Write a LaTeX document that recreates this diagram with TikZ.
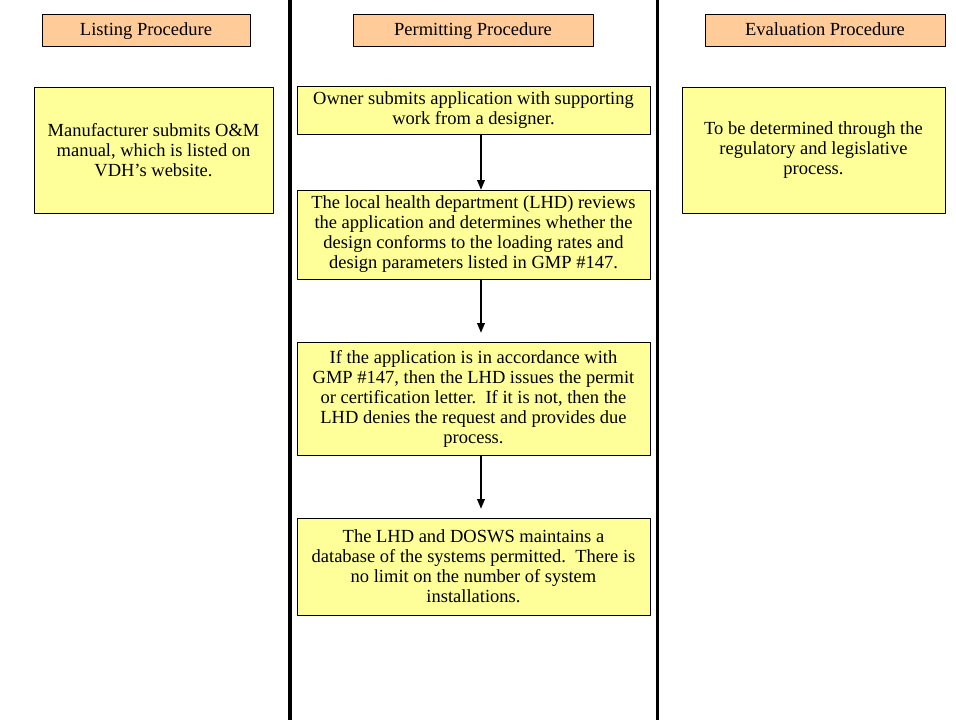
\documentclass[tikz,border=0pt]{standalone}
\usepackage{fontspec}
\setmainfont{Liberation Serif}
\usetikzlibrary{arrows}
\definecolor{hdrorange}{RGB}{255,204,153}
\definecolor{stepyellow}{RGB}{255,255,153}

\begin{document}
\begin{tikzpicture}[line cap=round,line join=round,>=triangle 45,x=1pt,y=-1pt,
	hdr/.style={draw=black,line width=0.8pt,fill=hdrorange,minimum height=32pt,inner sep=0pt,text height=1em,text depth=0em,font=\fontsize{18.5}{20}\selectfont},
	stepbox/.style={draw=black,line width=0.8pt,fill=stepyellow,inner sep=0pt,align=center,font=\fontsize{18.5}{20}\selectfont},
	flow/.style={->,line width=1.2pt}]
			\useasboundingbox (0,0) rectangle (956,721);
			%%%%%%%%%%%%%%% L A N E S %%%%%%%%%%%%%%%%
			\draw [line width=4pt,line cap=butt] (290,0) -- (290,720);
			\draw [line width=3.5pt,line cap=butt] (657.5,0) -- (657.5,720);
			%%%%%%%%%%%%%%% H E A D E R S %%%%%%%%%%%%%%%%
			\node[hdr,minimum width=208pt] (hdrL) at (146,30) {Listing Procedure};
			\node[hdr,minimum width=240pt] (hdrP) at (473,30) {Permitting Procedure};
			\node[hdr,minimum width=240pt] (hdrE) at (825,30) {Evaluation Procedure};
			%%%%%%%%%%%%%%% L I S T I N G %%%%%%%%%%%%%%%%
			\node[stepbox,minimum width=239pt,minimum height=126pt] (list) at (153.5,150)
				{Manufacturer submits O\&M\\manual, which is listed on\\VDH’s website.};
			%%%%%%%%%%%%%%% P E R M I T T I N G %%%%%%%%%%%%%%%%
			%step 1
			\node[stepbox,minimum width=353pt,minimum height=48pt] (apply) at (473.5,110)
				{Owner submits application with supporting\\work from a designer.};
			%step 2
			\node[stepbox,minimum width=353pt,minimum height=89pt] (review) at (473.5,234.5)
				{The local health department (LHD) reviews\\the application and determines whether the\\design conforms to the loading rates and\\design parameters listed in GMP \#147.};
			%step 3
			\node[stepbox,minimum width=353pt,minimum height=113pt] (issue) at (473.5,398.5)
				{If the application is in accordance with\\GMP \#147, then the LHD issues the permit\\or certification letter.\ \ If it is not, then the\\LHD denies the request and provides due\\process.};
			%step 4
			\node[stepbox,minimum width=353pt,minimum height=97pt] (record) at (473.5,566.5)
				{The LHD and DOSWS maintains a\\database of the systems permitted.\ \ There is\\no limit on the number of system\\installations.};
			%arrows
			\coordinate (ax) at (481,0);
			\draw [flow] (apply.south -| ax) -- (review.north -| ax);
			\draw [flow,shorten >=9pt] (review.south -| ax) -- (issue.north -| ax);
			\draw [flow,shorten >=9pt] (issue.south -| ax) -- (record.north -| ax);
			%%%%%%%%%%%%%%% E V A L U A T I O N %%%%%%%%%%%%%%%%
			\node[stepbox,minimum width=263pt,minimum height=126pt] (eval) at (813.5,150)
				{To be determined through the\\regulatory and legislative\\process.};
		\end{tikzpicture}
\end{document}
